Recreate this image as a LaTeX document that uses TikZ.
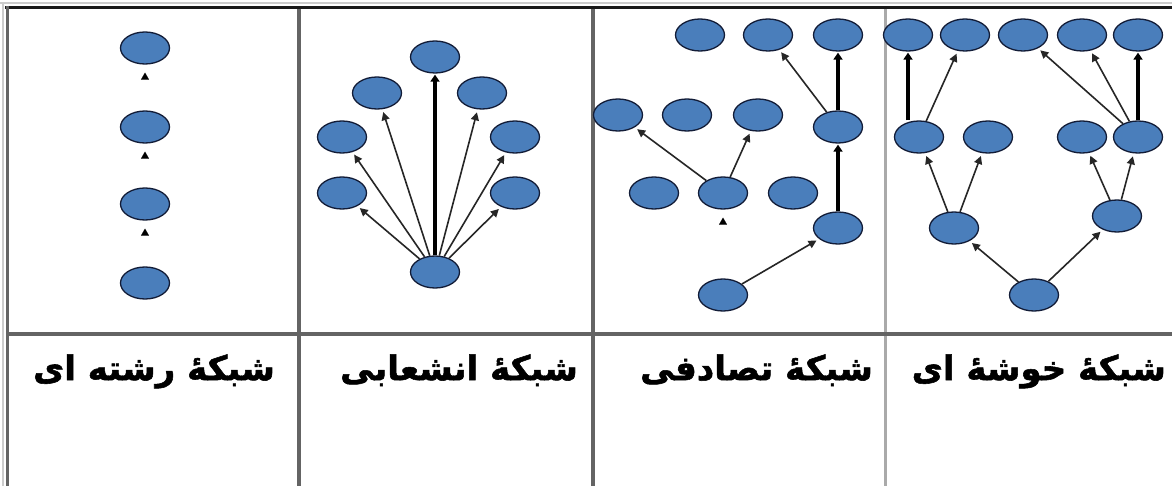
\documentclass[tikz,border=0pt]{standalone}
\usepackage{fontspec}
\newfontfamily\fa[Script=Arabic,BoldFeatures={FakeBold=1.6}]{DejaVu Sans}
\TeXXeTstate=1
\usetikzlibrary{shapes.geometric,arrows.meta}
\definecolor{nodeblue}{RGB}{74,126,187}
\definecolor{nodeline}{RGB}{18,28,55}
\definecolor{rulegrey}{RGB}{100,100,100}
\definecolor{lightrule}{RGB}{170,170,170}
\tikzset{
  nd/.style={ellipse,fill=nodeblue,draw=nodeline,line width=1.3pt,minimum width=49pt,minimum height=32pt,inner sep=0pt},
  thin arr/.style={draw=black!85,line width=1.6pt,-{Triangle[length=8pt,width=8pt]},shorten >=3pt},
  thick arr/.style={draw=black,line width=3.5pt,-{Triangle[length=7pt,width=9pt]},shorten >=1pt},
  tip only/.style={draw=white,line width=0.1pt,-{Triangle[black,length=7pt,width=8pt]},shorten >=8pt},
  lbl/.style={font=\fa\bfseries\fontsize{34}{38}\selectfont,inner sep=0pt,anchor=mid east}
}
\begin{document}
\begin{tikzpicture}[x=1pt,y=-1pt]
\useasboundingbox[fill=white] (0,0) rectangle (1172,486);
% table rules
\draw[lightrule!60,line width=2pt] (0,3) -- (1172,3);
\draw[lightrule!60,line width=2pt] (3,3) -- (3,486);
\draw[black!90,line width=3pt] (5,7.5) -- (1172,7.5);
\draw[rulegrey,line width=3.5pt] (7.5,6) -- (7.5,486);
\draw[rulegrey,line width=4pt] (298.5,9) -- (298.5,486);
\draw[rulegrey,line width=4pt] (592.5,9) -- (592.5,486);
\draw[lightrule,line width=3pt] (885,9) -- (885,486);
\draw[rulegrey,line width=3.5pt] (7,334) -- (1172,334);

% column 1: series network
\node[nd] (a1) at (145,48) {};
\node[nd] (a2) at (145,127) {};
\node[nd] (a3) at (145,204) {};
\node[nd] (a4) at (145,283) {};
\draw[tip only] (a2) -- (a1);
\draw[tip only] (a3) -- (a2);
\draw[tip only] (a4) -- (a3);

% column 2: branching network
\node[nd] (b0) at (435,272) {};
\node[nd] (b1) at (435,57) {};
\node[nd] (b2) at (377,93) {};
\node[nd] (b3) at (482,93) {};
\node[nd] (b4) at (342,137) {};
\node[nd] (b5) at (515,137) {};
\node[nd] (b6) at (342,193) {};
\node[nd] (b7) at (515,193) {};
\draw[thick arr] (b0) -- (b1);
\draw[thin arr] (b0) -- (b2);
\draw[thin arr] (b0) -- (b3);
\draw[thin arr] (b0) -- (b4);
\draw[thin arr] (b0) -- (b5);
\draw[thin arr] (b0) -- (b6);
\draw[thin arr] (b0) -- (b7);

% column 3: random network
\node[nd] (c1) at (700,35) {};
\node[nd] (c2) at (768,35) {};
\node[nd] (c3) at (838,35) {};
\node[nd] (c4) at (618,115) {};
\node[nd] (c5) at (687,115) {};
\node[nd] (c6) at (758,115) {};
\node[nd] (c7) at (838,127) {};
\node[nd] (c8) at (654,193) {};
\node[nd] (c9) at (723,193) {};
\node[nd] (c10) at (793,193) {};
\node[nd] (c11) at (838,228) {};
\node[nd] (c12) at (723,295) {};
\draw[thin arr] (c9) -- (c4);
\draw[thin arr] (c9) -- (c6);
\draw[thin arr] (c7) -- (c2);
\draw[thick arr] (c7) -- (c3);
\draw[thick arr] (c11) -- (c7);
\draw[thin arr] (c12) -- (c11);
\draw[tip only] (c12) -- (c9);

% column 4: cluster network
\node[nd] (d1) at (908,35) {};
\node[nd] (d2) at (965,35) {};
\node[nd] (d3) at (1023,35) {};
\node[nd] (d4) at (1082,35) {};
\node[nd] (d5) at (1138,35) {};
\node[nd] (d6) at (919,137) {};
\node[nd] (d7) at (988,137) {};
\node[nd] (d8) at (1082,137) {};
\node[nd] (d9) at (1138,137) {};
\node[nd] (d10) at (954,228) {};
\node[nd] (d11) at (1117,216) {};
\node[nd] (d12) at (1034,295) {};
\draw[thick arr] (d1 |- d6.north) -- (d1);
\draw[thin arr] (d6) -- (d2);
\draw[thin arr] (d9) -- (d3);
\draw[thin arr] (d9) -- (d4);
\draw[thick arr] (d9) -- (d5);
\draw[thin arr] (d10) -- (d6);
\draw[thin arr] (d10) -- (d7);
\draw[thin arr] (d11) -- (d8);
\draw[thin arr] (d11) -- (d9);
\draw[thin arr] (d12) -- (d10);
\draw[thin arr] (d12) -- (d11);

% labels
\node[lbl] (t1) at (275,378) {\beginR شبکهٔ رشته ای\endR};
\node[lbl] (t2) at (578,378) {\beginR شبکهٔ انشعابی\endR};
\node[lbl] (t3) at (873,378) {\beginR شبکهٔ تصادفی\endR};
\node[lbl] (t4) at (1166,378) {\beginR شبکهٔ خوشهٔ ای\endR};
\end{tikzpicture}
\end{document}
